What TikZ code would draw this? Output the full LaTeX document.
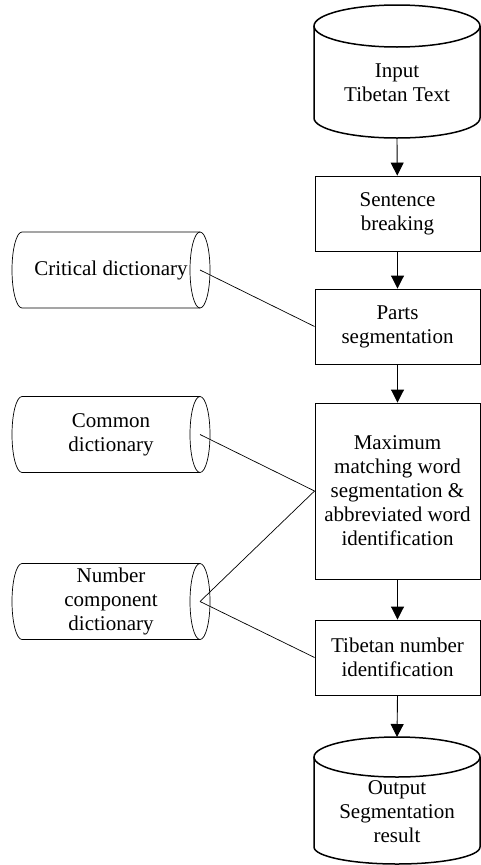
\documentclass[tikz,border=0pt]{standalone}
\usepackage{fontspec}
\setmainfont{Liberation Serif}
\usetikzlibrary{arrows.meta,calc}

\tikzset{
  every node/.style={font=\fontsize{21}{24}\selectfont},
  proc/.style={draw, line width=0.9pt, minimum width=165pt, minimum height=75pt, align=center, inner sep=1pt},
  store/.style={minimum width=166pt, align=center, inner sep=0pt, outer sep=0pt},
  dict/.style={minimum width=178pt, minimum height=76pt, align=center, inner sep=0pt, outer sep=0pt},
  storeline/.style={line width=1.5pt},
  dictline/.style={line width=0.7pt},
  flow/.style={-{Triangle[width=13pt,length=13pt]}, line width=0.9pt},
  link/.style={line width=0.7pt}
}

\begin{document}
\begin{tikzpicture}[x=1pt,y=1pt]
  \useasboundingbox (0,0) rectangle (481,-865);
  % Nodes
  \node[store, minimum height=71pt] (input) at (397,-82.5) {Input\\Tibetan Text};
  \node[proc] (sent) at (397.5,-213.5) {Sentence\\breaking};
  \node[proc] (parts) at (397.5,-326.5) {Parts\\segmentation};
  \node[proc, minimum height=176pt] (maxm) at (397.5,-491) {Maximum\\matching word\\segmentation \&\\abbreviated word\\identification};
  \node[proc] (tnum) at (397.5,-657.5) {Tibetan number\\identification};
  \node[store, minimum height=70pt] (output) at (397,-812) {Output\\Segmentation\\result};
  \node[dict] (crit) at (111,-270) {Critical dictionary};
  \node[dict] (common) at (111,-434.5) {Common\\dictionary};
  \node[dict] (numc) at (111,-601.5) {Number\\component\\dictionary};
  \coordinate (inputbot) at ($(input.south)+(0,-20)$);
  \coordinate (outputtop) at ($(output.north)+(0,40)$);
  % Shapes
  \draw[storeline] ($(input.north)+(0,21)$) ellipse[x radius=83, y radius=21];
  \draw[storeline] ($(input.north west)+(0,21)$) -- (input.south west)
    arc[start angle=180, end angle=360, x radius=83, y radius=20] -- ($(input.north east)+(0,21)$);
  \draw[storeline] ($(output.north)+(0,20)$) ellipse[x radius=83, y radius=20];
  \draw[storeline] ($(output.north west)+(0,20)$) -- (output.south west)
    arc[start angle=180, end angle=360, x radius=83, y radius=17] -- ($(output.north east)+(0,20)$);
  \foreach \d in {crit,common,numc}{
    \draw[dictline] (\d.east) ellipse[x radius=10, y radius=38];
    \draw[dictline] (\d.north east) -- (\d.north west)
      arc[start angle=90, end angle=270, x radius=10, y radius=38] -- (\d.south east);
  }
  % Edges
  \draw[flow] (inputbot) -- (sent);
  \draw[flow] (sent) -- (parts);
  \draw[flow] (parts) -- (maxm);
  \draw[flow] (maxm) -- (tnum);
  \draw[flow] (tnum.south) -- (outputtop);
  \draw[link] (crit.east) -- (parts.west);
  \draw[link] (common.east) -- (maxm.west);
  \draw[link] (numc.east) -- (maxm.west);
  \draw[link] (numc.east) -- (tnum.west);
\end{tikzpicture}
\end{document}
